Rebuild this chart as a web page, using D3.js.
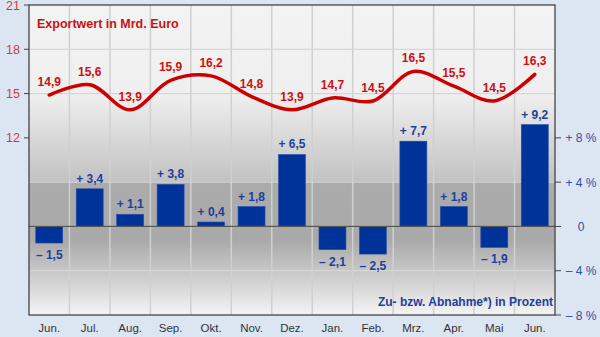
<!DOCTYPE html>
<html>
<head>
<meta charset="utf-8">
<script src="https://cdn.jsdelivr.net/npm/d3@7"></script>
<style>
html,body{margin:0;padding:0;background:#dce6f2;}
svg{display:block;font-family:"Liberation Sans",Arial,sans-serif;}
</style>
</head>
<body>
<svg id="chart" width="600" height="337"></svg>
<script>
const months = ["Jun.","Jul.","Aug.","Sep.","Okt.","Nov.","Dez.","Jan.","Feb.","Mrz.","Apr.","Mai","Jun."];
const exportValues = [14.9,15.6,13.9,15.9,16.2,14.8,13.9,14.7,14.5,16.5,15.5,14.5,16.3];
const changeValues = [-1.5,3.4,1.1,3.8,0.4,1.8,6.5,-2.1,-2.5,7.7,1.8,-1.9,9.2];
const leftTicks = [12,15,18,21];
const rightTicks = [-8,-4,0,4,8];
const rightTickLabels = ["\u2013 8 %","\u2013 4 %","0","+ 4 %","+ 8 %"];
const gridValues = [3,6,9,12,15,18];

const svg = d3.select("#chart");
const L = 29, R = 555, T = 5, B = 315;

const x = d3.scaleBand().domain(d3.range(months.length)).range([L, R]).padding(0);
const yL = d3.scaleLinear().domain([0, 21]).range([B, T]);
const yR = d3.scaleLinear().domain([-8, 20]).range([B, T]);

const defs = svg.append("defs");
const g = defs.append("linearGradient").attr("id","bg").attr("x1",0).attr("y1",0).attr("x2",0).attr("y2",1);
const frac = v => (v - T) / (B - T);
[[0,"#f3f3f3"],[frac(95),"#efefef"],[frac(181),"#c2c2c2"],[frac(182),"#ababab"],[frac(240),"#a9a9a9"],[frac(272),"#c8c8c8"],[1,"#f4f4f4"]]
  .forEach(([o,c]) => g.append("stop").attr("offset",o).attr("stop-color",c));

svg.append("rect").attr("x",L).attr("y",T).attr("width",R-L).attr("height",B-T).attr("fill","url(#bg)");

// vertical grid
svg.append("g").selectAll("line").data(d3.range(1, months.length)).join("line")
  .attr("x1", i => x(i)).attr("x2", i => x(i)).attr("y1", T).attr("y2", B)
  .attr("stroke", "#d0d0d0").attr("stroke-width", 1.5);

// horizontal grid
svg.append("g").selectAll("line").data(gridValues).join("line")
  .attr("x1", L).attr("x2", R).attr("y1", d => yL(d)).attr("y2", d => yL(d))
  .attr("stroke", "#d6d6d6").attr("stroke-width", 1.2);

// bars
svg.append("g").selectAll("rect").data(changeValues).join("rect")
  .attr("x", (d,i) => x(i) + x.bandwidth()/2 - 13.5)
  .attr("width", 27)
  .attr("y", d => d >= 0 ? yR(d) : yR(0))
  .attr("height", d => Math.abs(yR(d) - yR(0)))
  .attr("fill", "#003399").attr("stroke","#2a4fa8").attr("stroke-width",0.6);

// zero line
svg.append("line").attr("x1", L).attr("x2", R).attr("y1", yR(0)).attr("y2", yR(0))
  .attr("stroke", "#555").attr("stroke-width", 1.3);

// bar labels
const fmt = v => (v >= 0 ? "+ " : "\u2013 ") + Math.abs(v).toFixed(1).replace(".", ",");
svg.append("g").selectAll("text").data(changeValues).join("text")
  .attr("x", (d,i) => x(i) + x.bandwidth()/2)
  .attr("y", d => d >= 0 ? yR(d) - 6 : yR(d) + 16)
  .attr("text-anchor","middle").attr("font-size", 12).attr("font-weight","bold")
  .attr("fill","#1d3f9c").text(fmt);

// line
const line = d3.line().x((d,i) => x(i) + x.bandwidth()/2).y(d => yL(d)).curve(d3.curveCatmullRom.alpha(0.5));
svg.append("path").datum(exportValues).attr("d", line)
  .attr("fill","none").attr("stroke","#cc0000").attr("stroke-width",3.5).attr("stroke-linecap","round");

// line labels
svg.append("g").selectAll("text").data(exportValues).join("text")
  .attr("x", (d,i) => x(i) + x.bandwidth()/2)
  .attr("y", d => yL(d) - 9)
  .attr("text-anchor","middle").attr("font-size", 12).attr("font-weight","bold")
  .attr("fill","#cc1111").text(d => d.toFixed(1).replace(".", ","));

// border
svg.append("rect").attr("x",L).attr("y",T).attr("width",R-L).attr("height",B-T)
  .attr("fill","none").attr("stroke","#444").attr("stroke-width",1.3);

// left axis
const la = svg.append("g");
la.selectAll("line").data(leftTicks).join("line")
  .attr("x1", L-5).attr("x2", L).attr("y1", d => yL(d)).attr("y2", d => yL(d)).attr("stroke","#444");
la.selectAll("text").data(leftTicks).join("text")
  .attr("x", 20).attr("y", d => yL(d) + 4.5).attr("text-anchor","end")
  .attr("font-size", 12.5).attr("fill","#d43a3a").text(d => d);

// right axis
const ra = svg.append("g");
ra.selectAll("line").data(rightTicks).join("line")
  .attr("x1", R).attr("x2", R+6).attr("y1", d => yR(d)).attr("y2", d => yR(d)).attr("stroke","#444");
ra.selectAll("text").data(rightTicks).join("text")
  .attr("x", 581).attr("y", d => yR(d) + 4.5).attr("text-anchor","middle")
  .attr("font-size", 12).attr("fill","#2f4fa3").text((d,i) => rightTickLabels[i]);

// x labels
svg.append("g").selectAll("text").data(months).join("text")
  .attr("x", (d,i) => x(i) + x.bandwidth()/2).attr("y", 332)
  .attr("text-anchor","middle").attr("font-size", 11.5).attr("fill","#333").text(d => d);

// titles
svg.append("text").attr("x", 37).attr("y", 28).attr("font-size", 12.5).attr("font-weight","bold")
  .attr("fill","#cc1111").text("Exportwert in Mrd. Euro");
svg.append("text").attr("x", 553).attr("y", 306).attr("text-anchor","end").attr("font-size", 12).attr("font-weight","bold")
  .attr("fill","#1d3f9c").text("Zu- bzw. Abnahme*) in Prozent");
</script>
</body>
</html>
